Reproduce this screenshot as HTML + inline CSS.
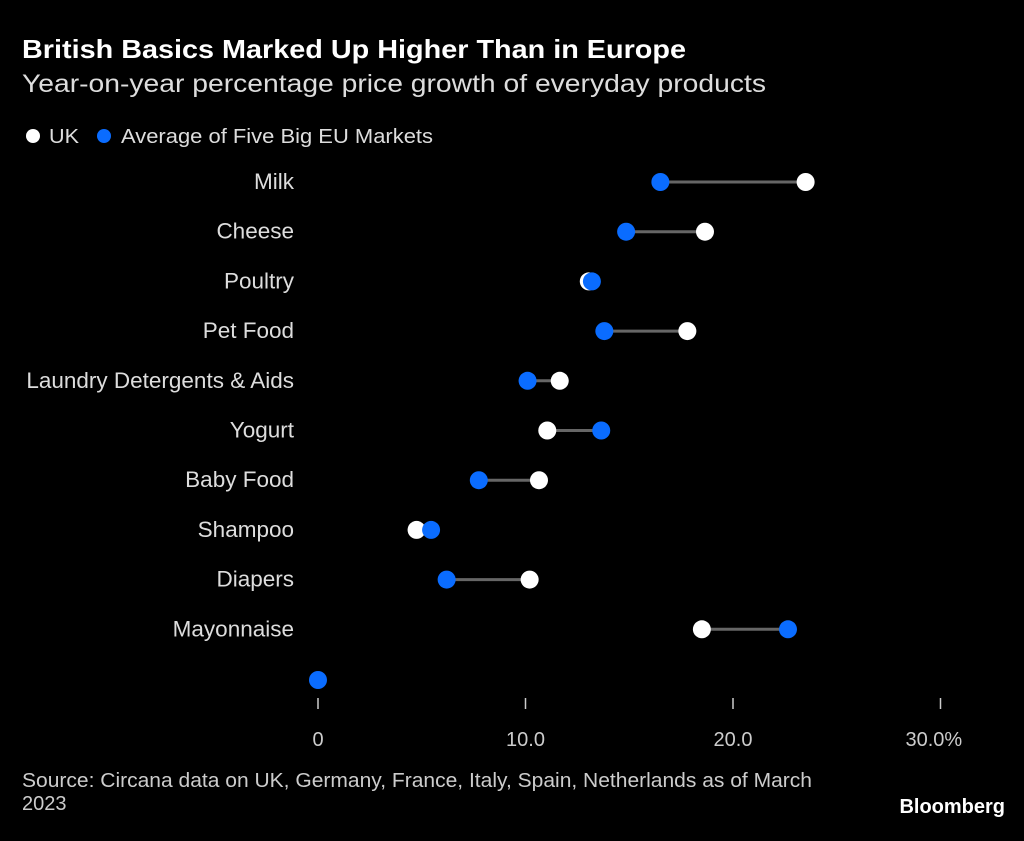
<!DOCTYPE html>
<html><head><meta charset="utf-8"><style>
body{margin:0;background:#000;width:1024px;height:836px;overflow:hidden;font-family:"Liberation Sans",sans-serif;color:#fff}
</style></head><body>
<svg width="1024" height="836" xmlns="http://www.w3.org/2000/svg" font-family="Liberation Sans, sans-serif">
<text x="22" y="58" font-size="26" font-weight="bold" fill="#fff" textLength="664" lengthAdjust="spacingAndGlyphs">British Basics Marked Up Higher Than in Europe</text>
<text x="22" y="92" font-size="25" fill="#ddd" textLength="744" lengthAdjust="spacingAndGlyphs">Year-on-year percentage price growth of everyday products</text>
<g>
<circle cx="33" cy="136" r="7" fill="#fff"/>
<text x="49" y="143" font-size="20" fill="#ddd" textLength="30" lengthAdjust="spacingAndGlyphs">UK</text>
<circle cx="104" cy="136" r="7" fill="#0a6cff"/>
<text x="121" y="143" font-size="20" fill="#ddd" textLength="312" lengthAdjust="spacingAndGlyphs">Average of Five Big EU Markets</text>
</g>
<g id="plot"></g>
<text x="22" y="787" font-size="20" fill="#ccc" textLength="790" lengthAdjust="spacingAndGlyphs">Source: Circana data on UK, Germany, France, Italy, Spain, Netherlands as of March</text>
<text x="22" y="810" font-size="20" fill="#ccc">2023</text>
<text x="1005" y="813" font-size="20" font-weight="bold" fill="#fff" text-anchor="end">Bloomberg</text>
</svg>
<script>
const categories=["Milk","Cheese","Poultry","Pet Food","Laundry Detergents & Aids","Yogurt","Baby Food","Shampoo","Diapers","Mayonnaise"];
const ukValues=[23.5,18.65,13.05,17.8,11.65,11.05,10.65,4.75,10.2,18.5];
const euValues=[16.5,14.85,13.2,13.8,10.1,13.65,7.75,5.45,6.2,22.65];
const ticks=[0,10,20,30];
const tickLabels=["0","10.0","20.0","30.0%"];
const NS="http://www.w3.org/2000/svg";
const g=document.getElementById('plot');
const x=v=>318+v*20.75;
const y=i=>182+i*49.7;
function mk(t,a){const e=document.createElementNS(NS,t);for(const k in a)e.setAttribute(k,a[k]);g.appendChild(e);return e;}
categories.forEach((c,i)=>{
  const lb=mk('text',{x:294,y:y(i)+7,'font-size':22.5,fill:'#ddd','text-anchor':'end'});lb.textContent=c;
  
  
  const ln=mk('line',{x1:x(ukValues[i]),x2:x(euValues[i]),y1:y(i),y2:y(i),stroke:'#666','stroke-width':3});
  
  
  const u=mk('circle',{cx:x(ukValues[i]),cy:y(i),r:9,fill:'#fff'});
  
  
  const e=mk('circle',{cx:x(euValues[i]),cy:y(i),r:9,fill:'#0a6cff'});
  
  
});
const sd=mk('circle',{cx:x(0),cy:680,r:9,fill:'#0a6cff'});


ticks.forEach((t,i)=>{
  const tk=mk('line',{x1:x(t),x2:x(t),y1:698,y2:709,stroke:'#ccc','stroke-width':1.5});
  
  
  const tl=mk('text',{x:x(t),y:746,'font-size':20,fill:'#ccc','text-anchor':i==3?'start':'middle'});
  if(i==3)tl.setAttribute('x',x(t)-35);
  tl.textContent=tickLabels[i];
  
  
});
</script>
</body></html>
